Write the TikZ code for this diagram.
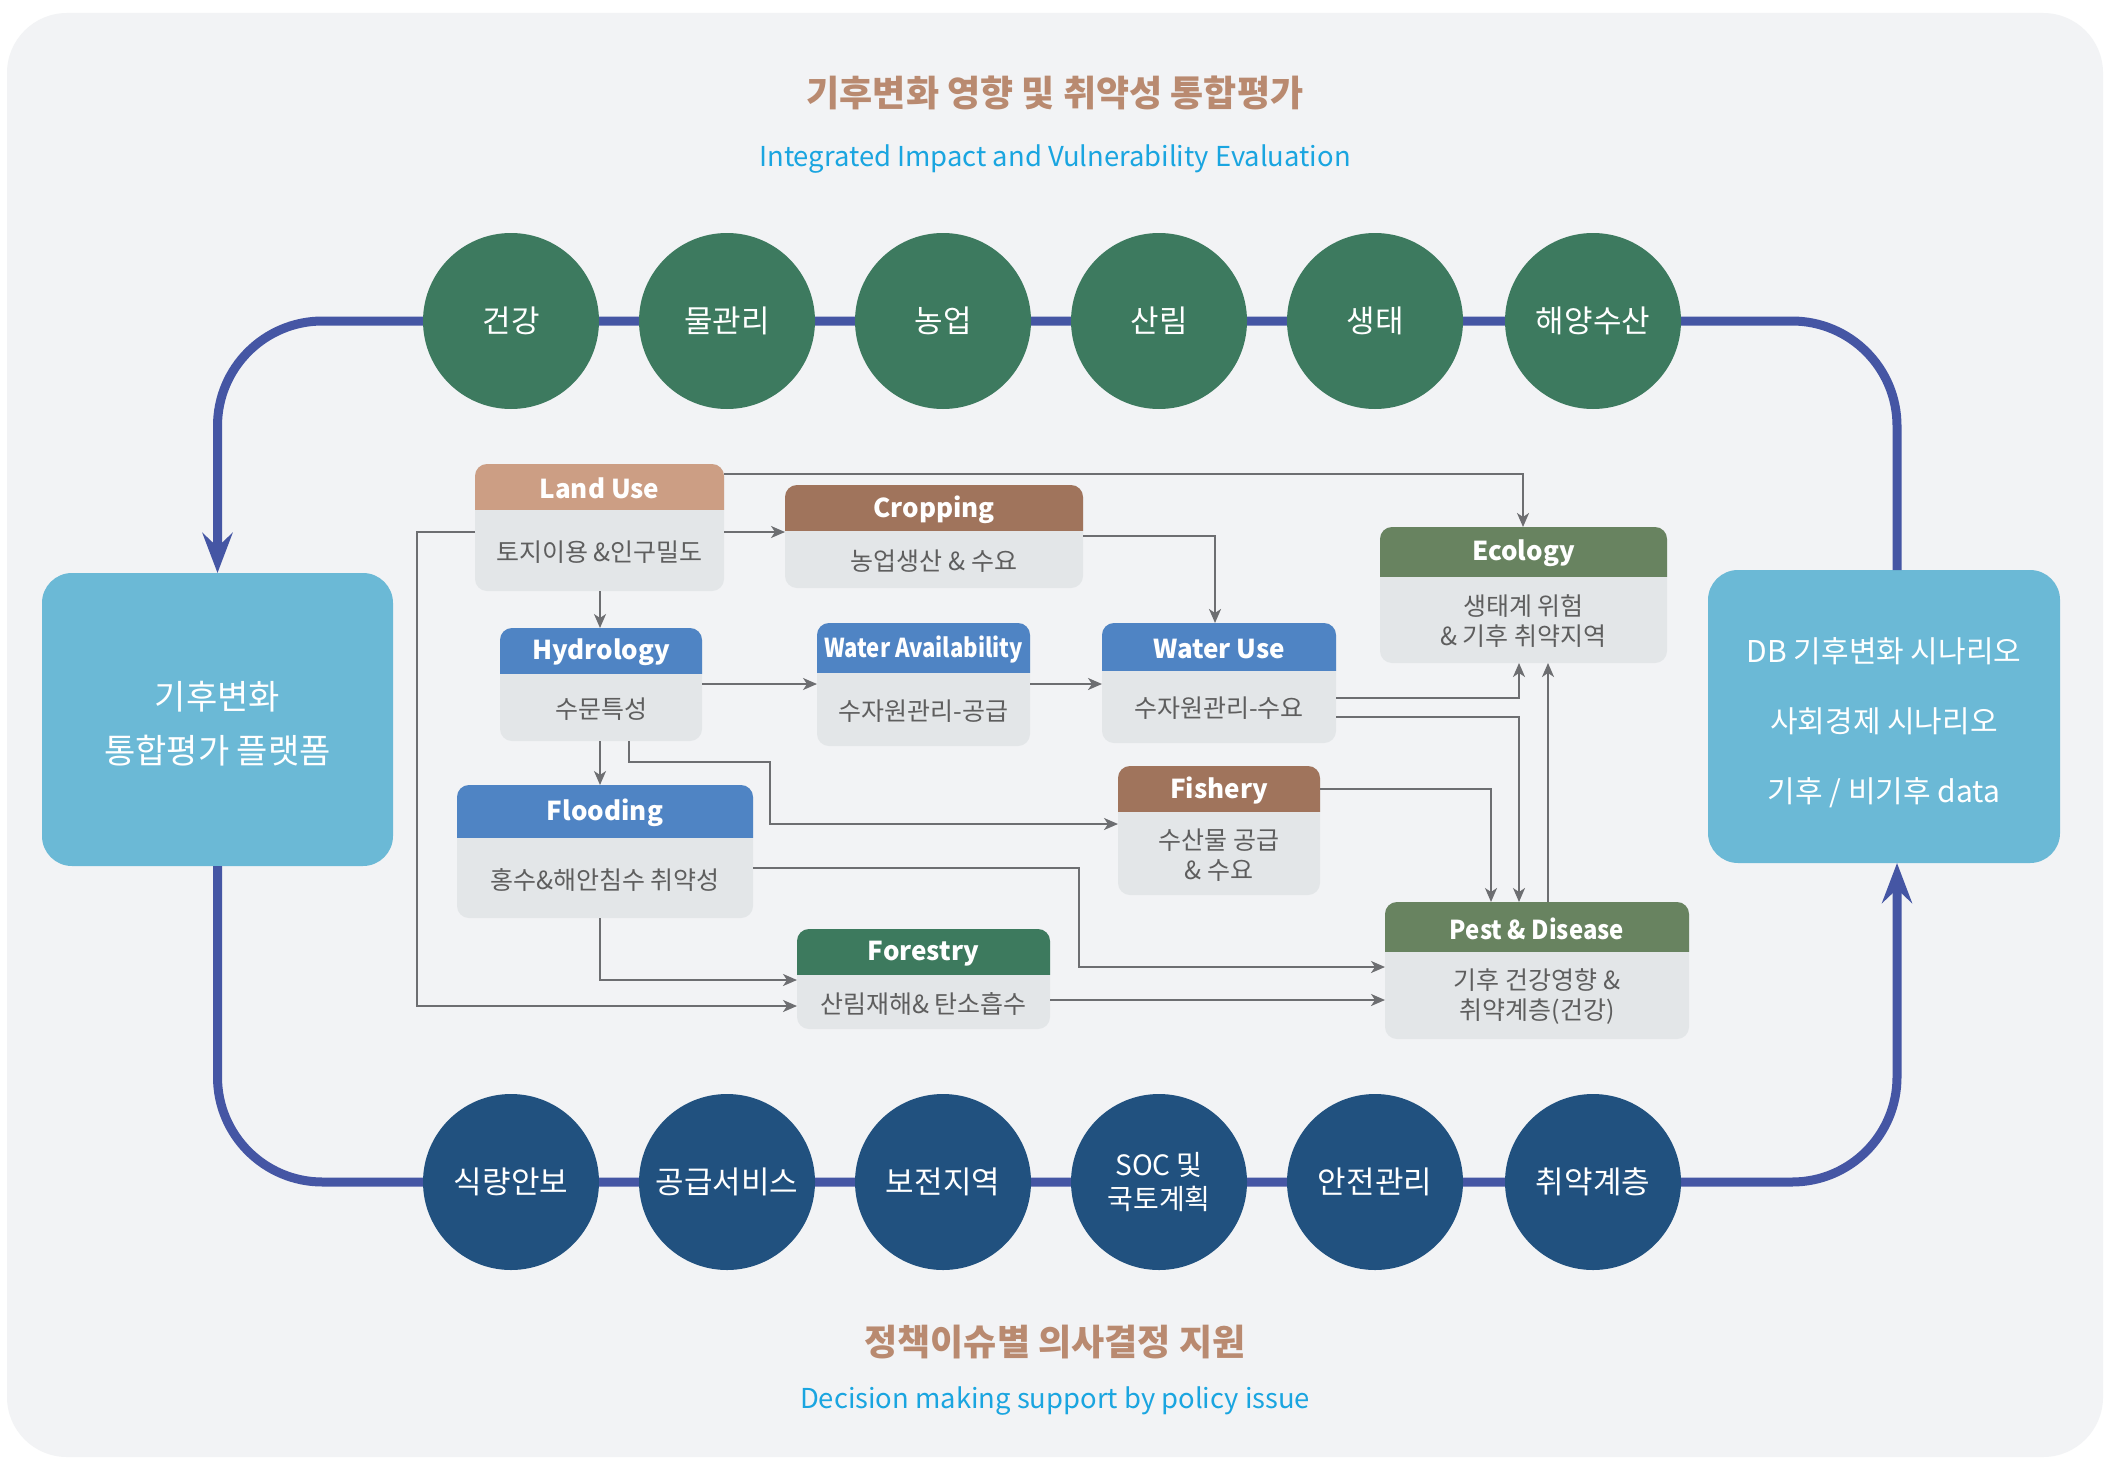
\documentclass[tikz,border=0pt]{standalone}
\usepackage{fontspec}
\usepackage{graphicx}
\setmainfont{Noto Sans CJK KR}
\usetikzlibrary{arrows.meta,fit}
\definecolor{bgcol}{HTML}{F2F3F5}
\definecolor{loopcol}{HTML}{4556A4}
\definecolor{topcol}{HTML}{3D7A5F}
\definecolor{botcol}{HTML}{21517F}
\definecolor{sidecol}{HTML}{6BB9D6}
\definecolor{bodycol}{HTML}{E3E6E8}
\definecolor{bodytxt}{HTML}{5E5E5E}
\definecolor{conncol}{HTML}{6D6E71}
\definecolor{tancol}{HTML}{CC9E84}
\definecolor{browncol}{HTML}{A0745C}
\definecolor{bluecol}{HTML}{4F84C4}
\definecolor{sagecol}{HTML}{688360}
\definecolor{forcol}{HTML}{3D7A5E}
\definecolor{titlecol}{HTML}{B98A70}
\definecolor{subcol}{HTML}{1AA5E0}
\tikzset{
  conn/.style={draw=conncol, line width=1pt, -{Stealth[length=7pt,width=6pt,inset=2pt]}},
  loopline/.style={draw=loopcol, line width=4.5pt},
  tcirc/.style={circle, fill=topcol, minimum size=88pt, inner sep=0pt, text=white, align=center, font=\fontsize{15.5}{18}\selectfont},
  bcirc/.style={circle, fill=botcol, minimum size=88pt, inner sep=0pt, text=white, align=center, font=\fontsize{15.5}{18}\selectfont},
  hdr/.style={text=white, inner sep=0pt, font=\bfseries\fontsize{13}{16}\selectfont},
  bodyt/.style={text=bodytxt, inner sep=0pt, align=center, font=\fontsize{12.5}{15}\selectfont},
  sidebox/.style={fill=sidecol, rounded corners=15pt, inner sep=0pt, outer sep=0pt},
  sidetxt/.style={text=white, align=center, inner sep=0pt},
}
\newcommand\ibox[9]{%
  \node[fit={(#2,#3) (#4,#5)}, inner sep=0pt, outer sep=0pt] (#1) {};
  \fill[bodycol, rounded corners=6pt] (#2,#3) rectangle (#4,#5);
  \begin{scope}
    \clip (#2,#3) rectangle (#4,#6);
    \fill[#7, rounded corners=6pt] (#2,#3) rectangle (#4,#5);
  \end{scope}
  \node[hdr] (#1h) at ({(#2+#4)/2},{(#3+#6)/2+2}) {#8};
  \node[bodyt] (#1b) at ({(#2+#4)/2},{(#6+#5)/2+2}) {#9};
}
\begin{document}
\begin{tikzpicture}[x=0.5pt, y=-0.5pt]
\useasboundingbox (0,0) rectangle (2118,1461);
\fill[white] (0,0) rectangle (2118,1461);
\fill[bgcol, rounded corners=30pt] (7,13) rectangle (2103,1457);

% titles
\node[text=titlecol, font=\bfseries\fontsize{18}{22}\selectfont] (t1) at (1055,93) {기후변화 영향 및 취약성 통합평가};
\node[text=subcol, font=\fontsize{13.7}{18}\selectfont] (t2) at (1055,159) {Integrated Impact and Vulnerability Evaluation};
\node[text=titlecol, font=\bfseries\fontsize{18}{22}\selectfont] (b1) at (1055,1342) {정책이슈별 의사결정 지원};
\node[text=subcol, font=\fontsize{13.7}{18}\selectfont] (b2) at (1055,1401) {Decision making support by policy issue};

% side boxes
\node[sidebox, fit={(42,573) (393,866)}] (lbox) {};
\node[sidetxt, font=\fontsize{17}{27}\selectfont] (lboxt) at (217.5,724) {기후변화\\통합평가 플랫폼};
\node[sidebox, fit={(1708,570) (2060,863)}] (rbox) {};
\node[sidetxt, font=\fontsize{15}{35}\selectfont] (rboxt) at (1884,723) {DB 기후변화 시나리오\\사회경제 시나리오\\기후 / 비기후 data};

% loop
\draw[loopline, rounded corners=52.5pt, -{Stealth[length=20pt,width=15pt,inset=7pt]}]
  (rbox.north -| 1897,0) -- (1897,321) -- (217.5,321) -- (lbox.north);
\draw[loopline, rounded corners=52.5pt, -{Stealth[length=20pt,width=15pt,inset=7pt]}]
  (lbox.south) -- (217.5,1182) -- (1897,1182) -- (rbox.south -| 1897,0);

% top circles
\node[tcirc] (c1) at (511,321) {건강};
\node[tcirc] (c2) at (727,321) {물관리};
\node[tcirc] (c3) at (943,321) {농업};
\node[tcirc] (c4) at (1159,321) {산림};
\node[tcirc] (c5) at (1375,321) {생태};
\node[tcirc] (c6) at (1593,321) {해양수산};
% bottom circles
\node[bcirc] (d1) at (511,1182) {식량안보};
\node[bcirc] (d2) at (727,1182) {공급서비스};
\node[bcirc] (d3) at (943,1182) {보전지역};
\node[bcirc, font=\fontsize{14}{17}\selectfont] (d4) at (1159,1182) {SOC 및\\국토계획};
\node[bcirc] (d5) at (1375,1182) {안전관리};
\node[bcirc] (d6) at (1593,1182) {취약계층};

% inner boxes
\ibox{lu}{475}{464}{724}{591}{509}{tancol}{Land Use}{토지이용 \&인구밀도}
\ibox{crop}{785}{485}{1083}{588}{530}{browncol}{Cropping}{농업생산 \& 수요}
\ibox{hyd}{500}{628}{702}{741}{673}{bluecol}{Hydrology}{수문특성}
\ibox{wa}{817}{623}{1030}{746}{672}{bluecol}{\scalebox{0.85}[1]{Water Availability}}{수자원관리-공급}
\ibox{wu}{1102}{623}{1336}{743}{670}{bluecol}{Water Use}{수자원관리-수요}
\ibox{eco}{1380}{527}{1667}{663}{576}{sagecol}{Ecology}{생태계 위험\\\& 기후 취약지역}
\ibox{fl}{457}{785}{753}{918}{837}{bluecol}{Flooding}{홍수\&해안침수 취약성}
\ibox{fish}{1118}{766}{1320}{895}{811}{browncol}{Fishery}{수산물 공급\\\& 수요}
\ibox{fore}{797}{929}{1050}{1029}{974}{forcol}{Forestry}{산림재해\& 탄소흡수}
\ibox{pest}{1385}{902}{1689}{1039}{951}{sagecol}{\scalebox{0.92}[1]{Pest \& Disease}}{기후 건강영향 \&\\취약계층(건강)}

% connectors
\draw[conn] (lu.east |- 0,532) -- (crop.west |- 0,532);
\draw[conn] (lu.east |- 0,474) -- (1523,474) -- (eco.north -| 1523,0);
\draw[conn] (lu.south -| 600,0) -- (hyd.north -| 600,0);
\draw[conn] (lu.west |- 0,532) -- (417,532) -- (417,1006) -- (fore.west |- 0,1006);
\draw[conn] (crop.east |- 0,536) -- (1215,536) -- (wu.north -| 1215,0);
\draw[conn] (hyd.east |- 0,684) -- (wa.west |- 0,684);
\draw[conn] (wa.east |- 0,684) -- (wu.west |- 0,684);
\draw[conn] (hyd.south -| 600,0) -- (fl.north -| 600,0);
\draw[conn] (hyd.south -| 629,0) -- (629,762) -- (770,762) -- (770,824) -- (fish.west |- 0,824);
\draw[conn] (wu.east |- 0,698) -- (1519,698) -- (eco.south -| 1519,0);
\draw[conn] (wu.east |- 0,717) -- (1519,717) -- (pest.north -| 1519,0);
\draw[conn] (pest.north -| 1548,0) -- (eco.south -| 1548,0);
\draw[conn] (fish.east |- 0,789) -- (1491,789) -- (pest.north -| 1491,0);
\draw[conn] (fl.east |- 0,868) -- (1079,868) -- (1079,967) -- (pest.west |- 0,967);
\draw[conn] (fl.south -| 600,0) -- (600,980) -- (fore.west |- 0,980);
\draw[conn] (fore.east |- 0,1000) -- (pest.west |- 0,1000);
\end{tikzpicture}
\end{document}
